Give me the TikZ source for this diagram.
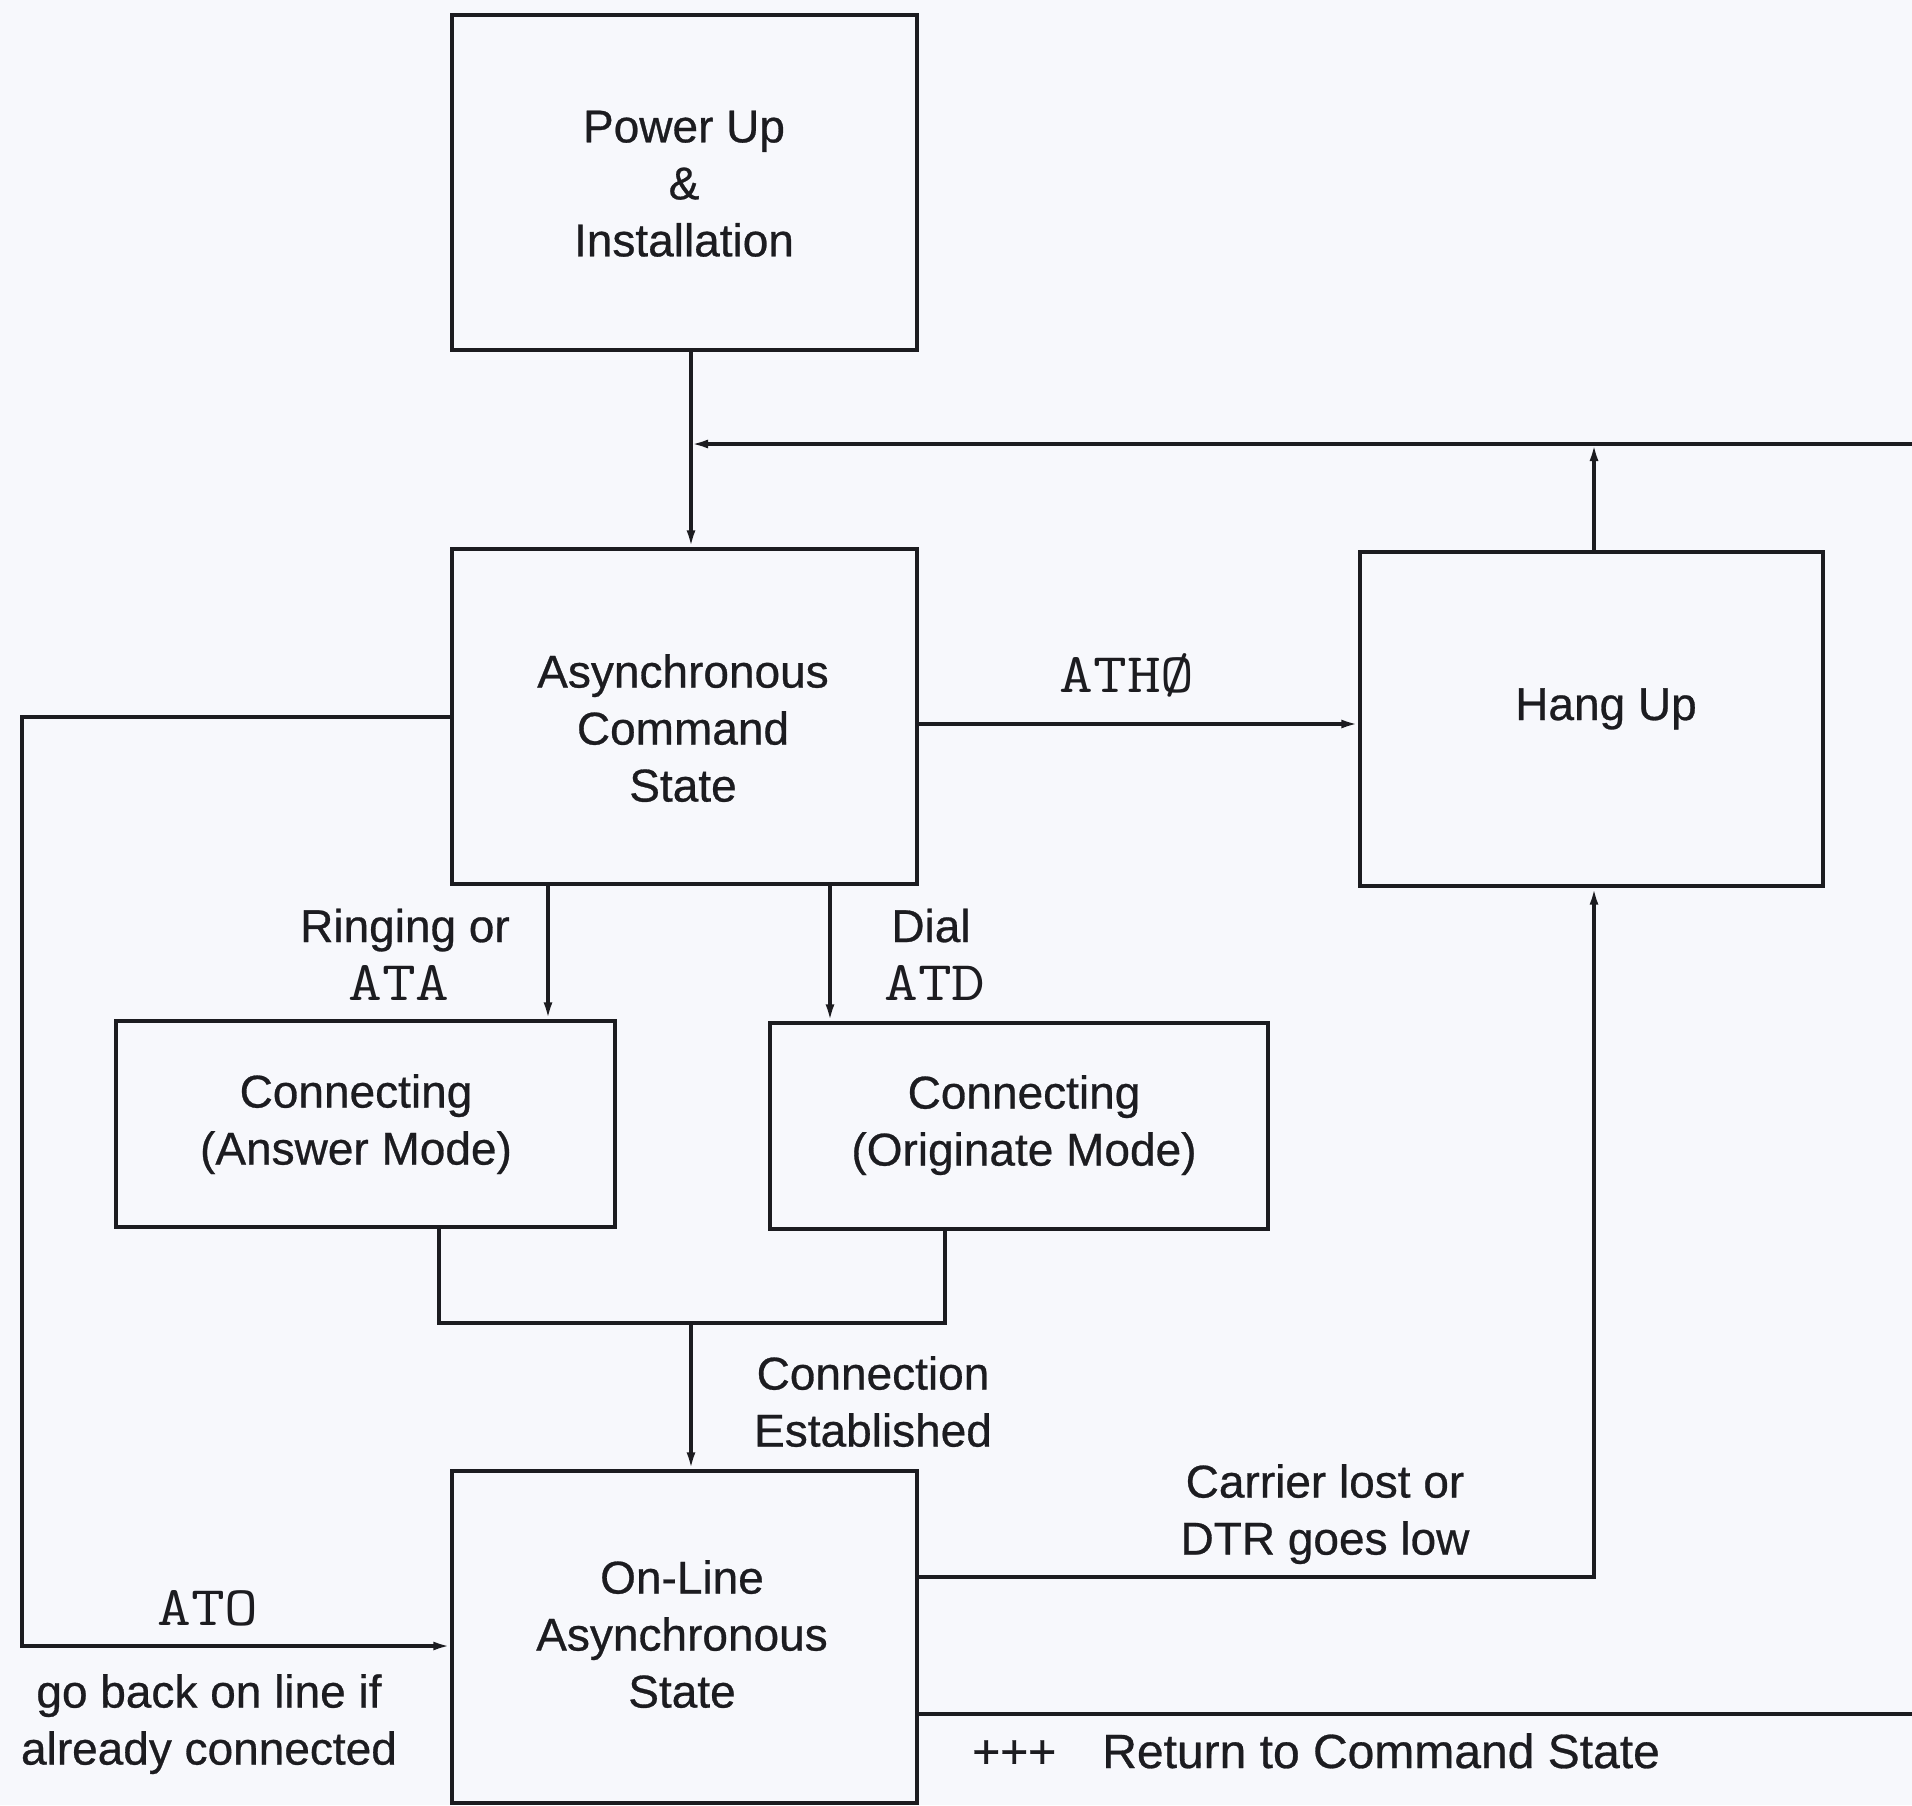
\documentclass[tikz,border=0pt]{standalone}
\usepackage{fontspec}
\setmainfont{Liberation Sans}[FakeBold=0.6]
\newfontfamily\monofont{Latin Modern Mono}[FakeStretch=1.17]
\usetikzlibrary{arrows.meta,calc}
\definecolor{paper}{RGB}{247,248,252}
\definecolor{ink}{RGB}{28,28,32}
\begin{document}
\begin{tikzpicture}[x=1pt,y=-1pt,
  box/.style={draw=ink,line width=3.4pt,rectangle,inner sep=0pt},
  txt/.style={text=ink,inner sep=0pt,font=\fontsize{46}{57}\selectfont,align=center},
  mono/.style={text=ink,inner sep=0pt,font=\monofont\fontsize{56}{60}\selectfont},
  wire/.style={draw=ink,line width=3.2pt},
  arr/.style={wire,-{Latex[length=17pt,width=9pt]}}]
\useasboundingbox (0,0) rectangle (1912,1805);
\fill[paper] (0,0) rectangle (1912,1805);

% boxes
\node[box,minimum width=465pt,minimum height=335pt] (pu)  at (684.5,182.5) {};
\node[box,minimum width=465pt,minimum height=335pt] (acs) at (684.5,716.5) {};
\node[box,minimum width=463pt,minimum height=334pt] (hu)  at (1591.5,719) {};
\node[box,minimum width=499pt,minimum height=206pt] (ca)  at (365.5,1124) {};
\node[box,minimum width=498pt,minimum height=206pt] (co)  at (1019,1126) {};
\node[box,minimum width=465pt,minimum height=332pt] (ol)  at (684.5,1637) {};

% box texts
\node[txt,anchor=north] (tpu)  at (684,110.5) {Power Up\\\&\\Installation};
\node[txt,anchor=north] (tacs) at (683,654) {Asynchronous\\Command\\State};
\node[txt,anchor=base]  (thu)  at (1606,720) {Hang Up};
\node[txt,anchor=north] (tca)  at (356,1074) {Connecting\\(Answer Mode)};
\node[txt,anchor=north] (tco)  at (1024,1075) {Connecting\\(Originate Mode)};
\node[txt,anchor=north] (tol)  at (682,1560) {On-Line\\Asynchronous\\State};

% helper coordinates
\coordinate (vx)  at (691,444);
\coordinate (fbR) at (1912,444);
\coordinate (hx)  at (1594,444);
\coordinate (lt)  at (22,717);
\coordinate (lb)  at (22,1646);
\coordinate (ath) at (1000,724);
\coordinate (rx)  at (548,950);
\coordinate (dx)  at (830,950);
\coordinate (mL)  at (439,1323);
\coordinate (mR)  at (945,1323);
\coordinate (cr)  at (1594,1577);
\coordinate (pr)  at (1912,1714);

% connectors
\draw[arr] (pu.south -| vx) -- (acs.north -| vx);
\draw[arr] (fbR) -- (vx);
\draw[arr] (hu.north -| hx) -- (hx);
\draw[arr] (acs.west |- lt) -- (lt) -- (lb) -- (ol.west |- lb);
\draw[arr] (acs.east |- ath) -- (hu.west |- ath);
\draw[arr] (acs.south -| rx) -- (ca.north -| rx);
\draw[arr] (acs.south -| dx) -- (co.north -| dx);
\draw[wire] (ca.south -| mL) -- (mL) -- (mR) -- (co.south -| mR);
\draw[arr] (mL -| vx) -- (ol.north -| vx);
\draw[arr] (ol.east |- cr) -- (cr) -- (hu.south -| cr);
\draw[wire] (ol.east |- pr) -- (pr);

% labels
\node[mono,anchor=base] (lath)  at (1127,692) {ATHØ};
\node[txt,anchor=base]  (lring) at (405,942) {Ringing or};
\node[mono,anchor=base] (lata)  at (399,1000) {ATA};
\node[txt,anchor=base]  (ldial) at (931,942) {Dial};
\node[mono,anchor=base] (latd)  at (935,1000) {ATD};
\node[txt,anchor=north] (lconn) at (873,1356) {Connection\\Established};
\node[txt,anchor=north] (lcarr) at (1325,1464) {Carrier lost or\\DTR goes low};
\node[mono,anchor=base] (lato)  at (208,1625) {ATO};
\node[txt,anchor=north] (lgo)   at (209,1674) {go back on line if\\already connected};
\node[txt,anchor=base west,font=\fontsize{48}{57}\selectfont] (lret) at (972,1768) {+++\hspace{46pt}Return to Command State};
\end{tikzpicture}
\end{document}
